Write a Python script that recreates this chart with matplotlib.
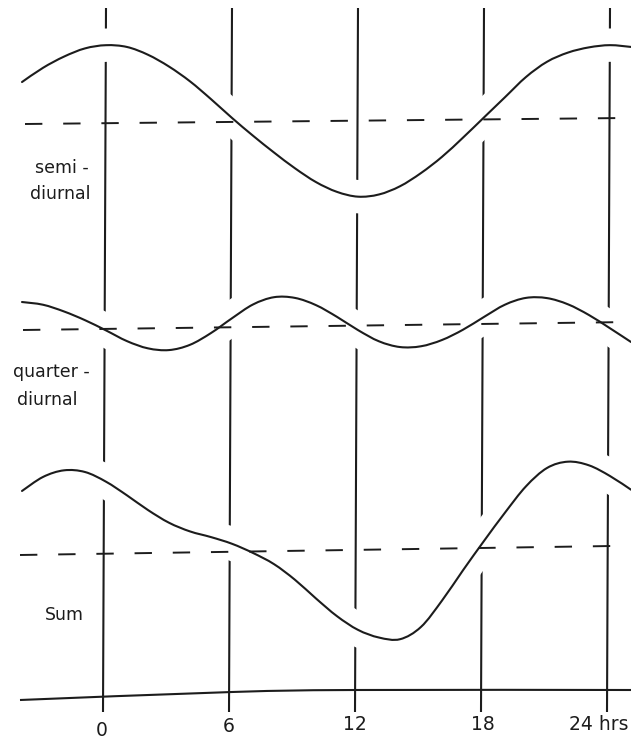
import matplotlib
matplotlib.use("Agg")
import matplotlib.pyplot as plt
import matplotlib.patheffects as pe
from matplotlib.path import Path
from matplotlib.patches import PathPatch
import numpy as np

plt.rcParams['font.family'] = ['DejaVu Sans']
plt.rcParams['lines.scale_dashes'] = False

# ---------------- data ----------------
hours = list(range(-4, 26))
# heights above the mean (dashed) line, arbitrary units (up = positive)
semidiurnal = [42, 56, 67, 75, 78, 76, 68, 56, 41, 23, 4, -14, -31, -47, -61,
               -71, -76, -74, -66, -53, -37, -18, 2, 22, 42, 57, 66, 71, 73, 71]
quarterdiurnal = [28, 25, 18, 9, -1.5, -12.5, -20, -22, -17, -5.5, 9, 22.5, 29.5, 28.5, 21,
                  9, -4.5, -16, -22, -21.5, -15.5, -5.5, 7, 19, 25.5, 25, 18.5, 7.5, -6, -20]
tide_sum = [64, 77.7, 84, 82, 72, 58, 43, 30, 21, 15, 8, -1.5, -13, -29, -48,
            -66, -80, -88, -90, -78, -52, -22, 7, 35, 61, 79, 85, 81, 70, 56]

tick_hours = [0, 6, 12, 18, 24]
tick_labels = ["0", "6", "12", "18", "24 hrs"]
series_labels = [["semi -", "diurnal"], ["quarter -", "diurnal"], ["Sum"]]

# ---------------- layout ----------------
W, H = 631, 739
PX0, PXH = 106.0, 21.0           # pixel of hour 0, pixels per hour


def t_of(px):
    return (px - PX0) / PXH


def smooth_path(x, y):
    """Cubic Bezier path passing through every (x, y) point (Catmull-Rom)."""
    P = np.column_stack([x, y])
    Pe = np.vstack([P[0], P, P[-1]])
    verts = [P[0]]
    codes = [Path.MOVETO]
    for i in range(len(P) - 1):
        p0, p1, p2, p3 = Pe[i], Pe[i + 1], Pe[i + 2], Pe[i + 3]
        verts += [p1 + (p2 - p0) / 6.0, p2 - (p3 - p1) / 6.0, p2]
        codes += [Path.CURVE4] * 3
    return Path(np.array(verts), codes)


fig = plt.figure(figsize=(W / 100, H / 100), dpi=100)
ax = fig.add_axes([0, 0, 1, 1])
ax.set_xlim(t_of(0), t_of(W))
ax.set_ylim(H, 0)
ax.axis('off')

ink = '#1c1c1c'

# mean (dashed) line of each panel: (left px, left y, right px, right y)
panels = [
    (semidiurnal, (25, 124, 625, 118)),
    (quarterdiurnal, (23, 330, 631, 322)),
    (tide_sum, (20, 555, 612, 546)),
]

# vertical hour lines (drawn first, broken by the curves' white halo)
for th in tick_hours:
    ax.plot([th, th - 3 / PXH], [8, 712], color=ink, lw=1.5, zorder=1,
            solid_capstyle='butt')

t_arr = np.array(hours, dtype=float)
for vals, (xl, yl, xr, yr) in panels:
    tl, tr = t_of(xl), t_of(xr)
    slope = (yr - yl) / (tr - tl)
    mean_y = yl + slope * (t_arr - tl)
    patch = PathPatch(smooth_path(t_arr, mean_y - np.array(vals)), fill=False,
                      edgecolor=ink, lw=1.5, zorder=2, capstyle='round',
                      joinstyle='round')
    patch.set_path_effects([pe.Stroke(linewidth=24, foreground='white'), pe.Normal()])
    ax.add_patch(patch)
    ax.plot([tl, tr], [yl, yr], color=ink, lw=1.4, zorder=3,
            dashes=(12.5, 15), dash_capstyle='butt')

# bottom time axis line
axis_t = [t_of(20), t_of(232), t_of(355), t_of(631)]
axis_y = [700, 692, 690, 690]
ax.add_patch(PathPatch(smooth_path(np.array(axis_t), np.array(axis_y, dtype=float)),
                       fill=False, edgecolor=ink, lw=1.5, zorder=3))

# tick labels
label_px = [102, 229, 355, 483, 599]
label_y = [731, 727, 725, 725, 725]
for lab, px, py in zip(tick_labels, label_px, label_y):
    ax.text(t_of(px), py, lab, ha='center', va='center', fontsize=13.5, color=ink)

# series labels (left x px, baseline y)
label_pos = [[(35, 173), (30, 199)], [(13, 377), (17, 405)], [(45, 620)]]
for lines, poss in zip(series_labels, label_pos):
    for txt, (px, py) in zip(lines, poss):
        ax.text(t_of(px), py, txt, ha='left', va='baseline', fontsize=12.5,
                color=ink, zorder=5)

fig.savefig('out.png', dpi=100, facecolor='white')
